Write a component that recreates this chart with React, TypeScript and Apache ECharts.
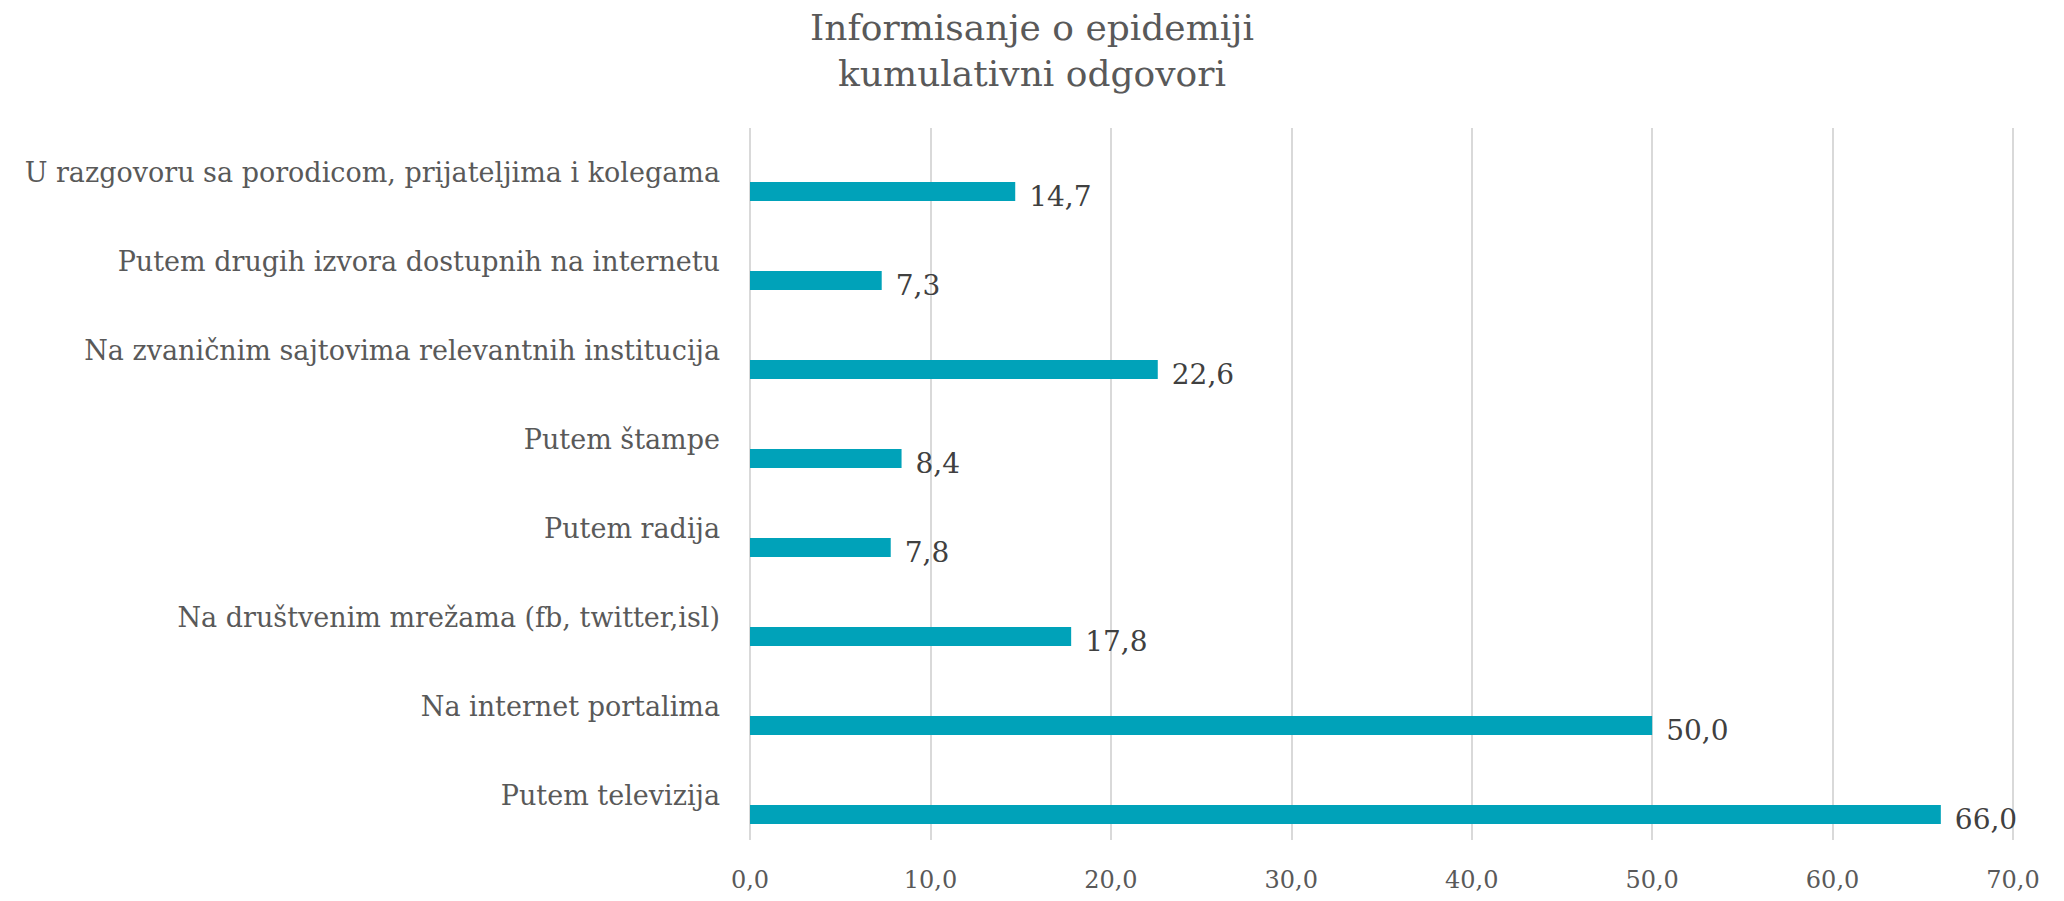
import React, { useEffect, useRef } from "react";
import * as echarts from "echarts";

const categories = [
  "Putem televizija",
  "Na internet portalima",
  "Na društvenim mrežama (fb, twitter,isl)",
  "Putem radija",
  "Putem štampe",
  "Na zvaničnim sajtovima relevantnih institucija",
  "Putem drugih izvora dostupnih na internetu",
  "U razgovoru sa porodicom, prijateljima i kolegama",
];
const values = [66.0, 50.0, 17.8, 7.8, 8.4, 22.6, 7.3, 14.7];
const emptySeries = categories.map(() => "-");
const titleText = "Informisanje o epidemiji\nkumulativni odgovori";

const fmt = (v: number) => v.toFixed(1).replace(".", ",");
const FONT = "'DejaVu Serif', serif";

export default function App() {
  const ref = useRef<HTMLDivElement>(null);
  useEffect(() => {
    if (!ref.current) return;
    const chart = echarts.init(ref.current, undefined, { renderer: "svg" });
    chart.setOption({
      animation: false,
      backgroundColor: "#ffffff",
      title: {
        text: titleText,
        left: "center",
        top: -9,
        textStyle: {
          fontFamily: FONT,
          fontSize: 36,
          fontWeight: "normal",
          color: "#595959",
          lineHeight: 46,
        },
      },
      grid: {
        left: 742,
        right: 43,
        top: 120,
        bottom: 53,
        containLabel: false,
        outerBoundsMode: "none",
      },
      xAxis: {
        type: "value",
        min: 0,
        max: 70,
        interval: 10,
        axisLine: { show: false },
        axisTick: { show: false },
        splitLine: { show: true, lineStyle: { color: "#D9D9D9", width: 2 } },
        axisLabel: {
          formatter: (v: number) => fmt(v),
          fontFamily: FONT,
          fontSize: 24,
          color: "#595959",
          margin: 28,
        },
      },
      yAxis: {
        type: "category",
        data: categories,
        axisLine: { show: false },
        axisTick: { show: false },
        splitLine: { show: false },
        axisLabel: {
          fontFamily: FONT,
          fontSize: 27,
          color: "#595959",
          margin: 30,
        },
      },
      series: [
        {
          type: "bar",
          data: emptySeries,
          barWidth: 19,
          barGap: "100%",
          silent: true,
        },
        {
          type: "bar",
          data: values,
          barWidth: 19,
          barGap: "100%",
          itemStyle: { color: "#00A2B9" },
          label: {
            show: true,
            position: "right",
            distance: 14,
            offset: [0, 5],
            formatter: (p: any) => fmt(p.value),
            fontFamily: FONT,
            fontSize: 28,
            color: "#404040",
          },
        },
      ],
    });
    return () => chart.dispose();
  }, []);
  return <div ref={ref} style={{ width: 2048, height: 885 }} />;
}
